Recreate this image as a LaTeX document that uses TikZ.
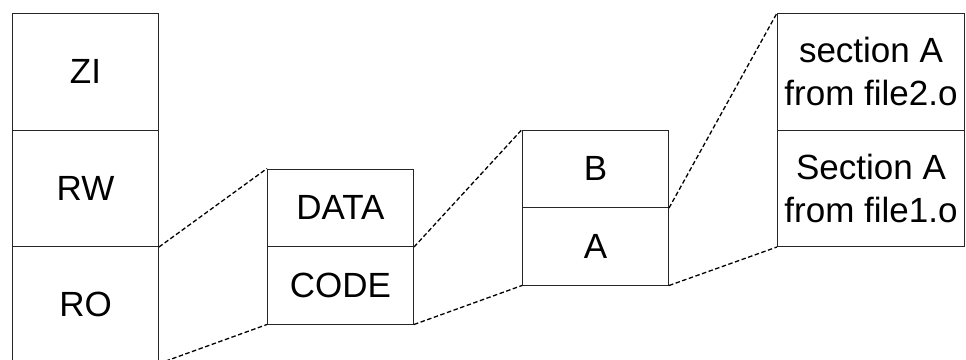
\documentclass[tikz,border=0pt]{standalone}
\usepackage{fontspec}
\setmainfont{Liberation Sans}
\begin{document}
\begin{tikzpicture}[x=1pt,y=-1pt,
  seg/.style={draw=black!85, line width=1pt, anchor=north west, inner sep=0pt,
    font=\fontsize{35}{42}\selectfont},
  tall/.style={seg, minimum width=146pt, minimum height=116.5pt},
  short/.style={seg, minimum width=146pt, minimum height=77.5pt},
  wide/.style={seg, minimum width=187pt, minimum height=116.5pt, align=center,
    font=\fontsize{35}{43}\selectfont},
  link/.style={draw=black, line width=1.3pt, dash pattern=on 4.5pt off 2.5pt}]
\clip (0,0) rectangle (966,359);
\fill[white] (0,0) rectangle (966,359);

% output image regions
\node[tall] (zi) at (12,13)    {ZI};
\node[tall] (rw) at (12,129.5) {RW};
\node[tall] (ro) at (12,246)   {RO};

% output section
\node[short] (data) at (267,168.5) {DATA};
\node[short] (code) at (267,246)   {CODE};

% input sections
\node[short] (b) at (522,129.5) {B};
\node[short] (a) at (522,207)   {A};

% section A contents
\node[wide] (fa2) at (777,13)    {section A\\from file2.o};
\node[wide] (fa1) at (777,129.5) {Section A\\from file1.o};

% zoom connectors
\draw[link] (rw.south east)   -- (data.north west);
\draw[link] (ro.south east)   -- (code.south west);
\draw[link] (data.south east) -- (b.north west);
\draw[link] (code.south east) -- (a.south west);
\draw[link] (b.south east)    -- (fa2.north west);
\draw[link] (a.south east)    -- (fa1.south west);
\end{tikzpicture}
\end{document}
